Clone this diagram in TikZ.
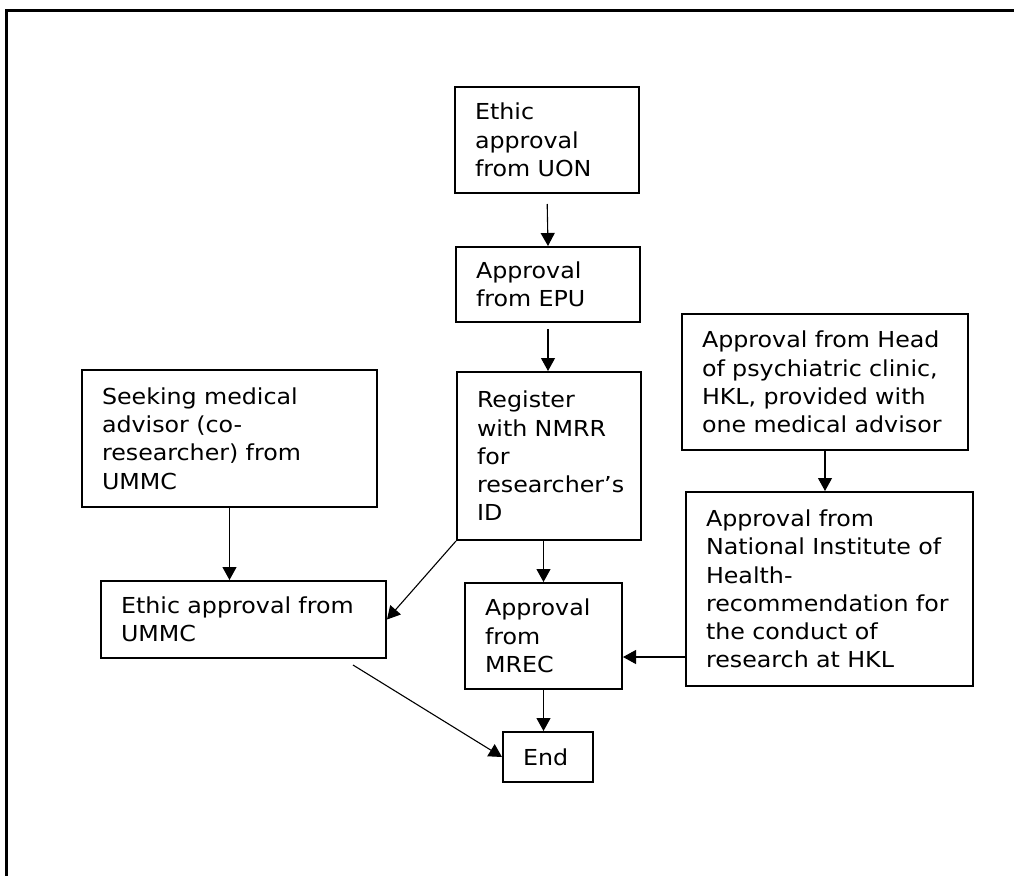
\documentclass[tikz,border=0pt]{standalone}
\usepackage{fontspec}
\setmainfont{DejaVu Sans}[FakeStretch=1.08]
\usetikzlibrary{arrows.meta,calc}
\begin{document}
\begin{tikzpicture}[x=1pt,y=-1pt,
  box/.style={draw,rectangle,line width=2pt,inner sep=0pt,align=left,
    font=\fontsize{22}{28.3}\selectfont},
  conn/.style={line width=1.1pt,-{Triangle[length=13pt,width=14pt]}}]
\useasboundingbox (0,0) rectangle (1014,876);
\draw[line width=3pt] (1014,10) -- (6,10) -- (6,876);
\node[box,minimum width=184,minimum height=106,text width=144] (uon) at (547,140) {Ethic\\approval\\from UON};
\node[box,minimum width=184,minimum height=75,text width=144] (epu) at (548,284.5) {Approval\\from EPU};
\node[box,minimum width=184,minimum height=168,text width=144] (nmrr) at (549,456) {Register\\with NMRR\\for\\researcher’s\\ID};
\node[box,minimum width=295,minimum height=137,text width=255] (seek) at (229.5,438.5) {Seeking medical\\advisor (co-\\researcher) from\\UMMC};
\node[box,minimum width=285,minimum height=77,text width=245] (ummc) at (243.5,619.5) {Ethic approval from\\UMMC};
\node[box,minimum width=157,minimum height=106,text width=117] (mrec) at (543.5,636) {Approval\\from\\MREC};
\node[box,minimum width=90,minimum height=50,text width=50] (end) at (548,757) {End};
\node[box,minimum width=286,minimum height=136,text width=246] (head) at (825,382) {Approval from Head\\of psychiatric clinic,\\HKL, provided with\\one medical advisor};
\node[box,minimum width=287,minimum height=194,text width=247] (nih) at (829.5,589) {Approval from\\National Institute of\\Health-\\recommendation for\\the conduct of\\research at HKL};
\coordinate (ummcout) at (353,665);
\coordinate (nihout) at (686,657);
\draw[conn,shorten <=10pt] (uon.south) -- (epu.north);
\draw[conn,shorten <=6pt] (epu.south) -- (epu.south |- nmrr.north);
\draw[conn] (seek.south) -- (seek.south |- ummc.north);
\draw[conn] (nmrr.south west) -- (ummc.east);
\draw[conn] (nmrr.south -| mrec.north) -- (mrec.north);
\draw[conn] (mrec.south) -- (mrec.south |- end.north);
\draw[conn] (ummcout) -- (end.west);
\draw[conn] (nihout) -- (mrec.east |- nihout);
\draw[conn] (head.south) -- (head.south |- nih.north);
\end{tikzpicture}
\end{document}
